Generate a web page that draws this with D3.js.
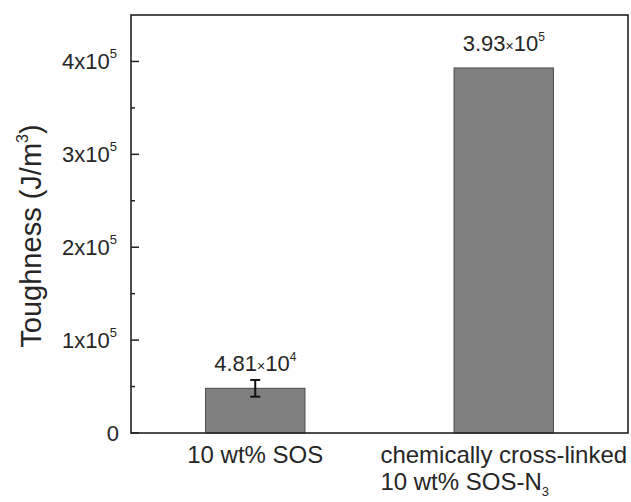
<!DOCTYPE html>
<html>
<head>
<meta charset="utf-8">
<script src="https://cdn.jsdelivr.net/npm/d3@7"></script>
<style>
  html, body { margin: 0; padding: 0; background: #fff; }
  svg text { font-family: "Liberation Sans", Arial, sans-serif; fill: #262626; }
</style>
</head>
<body>
<svg id="chart" width="631" height="502"></svg>
<script>
// Toughness of the two membranes
const categories = ["10 wt% SOS", "chemically cross-linked|10 wt% SOS-N|3"];
const values = [48100, 393000];
const errors = [9000, 0];
const yMajorTicks = [0, 100000, 200000, 300000, 400000];
const yMinorTicks = [50000, 150000, 250000, 350000];
const yTitle = "Toughness (J/m";

const W = 631, H = 502;
const margin = { left: 131, top: 15, right: 3, bottom: 69 };
const svg = d3.select("#chart");

const x = d3.scaleBand()
  .domain(d3.range(categories.length))
  .range([margin.left, W - margin.right])
  .paddingInner(0.6)
  .paddingOuter(0.3);

const y = d3.scaleLinear()
  .domain([0, 450000])
  .range([H - margin.bottom, margin.top]);

const plotL = margin.left, plotR = W - margin.right;
const plotT = margin.top, plotB = H - margin.bottom;

// bars
svg.append("g").selectAll("rect")
  .data(values)
  .join("rect")
  .attr("x", (d, i) => x(i))
  .attr("y", d => y(d))
  .attr("width", x.bandwidth())
  .attr("height", d => y(0) - y(d))
  .attr("fill", "#808080")
  .attr("stroke", "#4a4a4a")
  .attr("stroke-width", 1);

// error bars
const eb = svg.append("g").attr("stroke", "#111").attr("stroke-width", 2);
values.forEach((v, i) => {
  const e = errors[i];
  if (!e) return;
  const cx = x(i) + x.bandwidth() / 2;
  eb.append("line").attr("x1", cx).attr("x2", cx).attr("y1", y(v - e)).attr("y2", y(v + e));
  eb.append("line").attr("x1", cx - 5).attr("x2", cx + 5).attr("y1", y(v - e)).attr("y2", y(v - e));
  eb.append("line").attr("x1", cx - 5).attr("x2", cx + 5).attr("y1", y(v + e)).attr("y2", y(v + e));
});

// value labels in a×10^n form
values.forEach((v, i) => {
  const exp = Math.floor(Math.log10(v));
  const mant = (v / Math.pow(10, exp)).toFixed(2);
  const cx = x(i) + x.bandwidth() / 2;
  const t = svg.append("text")
    .attr("x", cx)
    .attr("y", y(v) - 17)
    .attr("text-anchor", "middle")
    .attr("font-size", 22);
  t.append("tspan").text(mant);
  t.append("tspan").attr("font-size", 14).text("\u00d7");
  t.append("tspan").text("10");
  t.append("tspan").attr("font-size", 12).attr("dy", -10).text(exp);
});

// y axis: major and minor ticks pointing inward
const axisG = svg.append("g").attr("stroke", "#222").attr("stroke-width", 1.5);
yMajorTicks.forEach(t => {
  axisG.append("line").attr("x1", plotL).attr("x2", plotL + 8).attr("y1", y(t)).attr("y2", y(t));
});
yMinorTicks.forEach(t => {
  axisG.append("line").attr("x1", plotL).attr("x2", plotL + 4).attr("y1", y(t)).attr("y2", y(t));
});

// y tick labels
yMajorTicks.forEach(t => {
  const g = svg.append("text")
    .attr("x", t === 0 ? plotL - 12 : plotL - 14)
    .attr("y", y(t) + 8)
    .attr("text-anchor", "end")
    .attr("font-size", 22);
  if (t === 0) {
    g.text("0");
  } else {
    const exp = Math.floor(Math.log10(t));
    const m = Math.round(t / Math.pow(10, exp));
    g.append("tspan").text(m + "x10");
    g.append("tspan").attr("font-size", 13).attr("dy", -11).text(exp);
  }
});

// frame
svg.append("rect")
  .attr("x", plotL).attr("y", plotT)
  .attr("width", plotR - plotL).attr("height", plotB - plotT)
  .attr("fill", "none").attr("stroke", "#222").attr("stroke-width", 1.6);

// category labels (second one wraps, with N subscript 3)
const cat0 = x(0) + x.bandwidth() / 2;
svg.append("text")
  .attr("x", cat0).attr("y", plotB + 30)
  .attr("text-anchor", "middle").attr("font-size", 24)
  .text(categories[0]);

const parts = categories[1].split("|");
const cat1 = x(1) + x.bandwidth() / 2;
const catG = svg.append("g");
const line1 = catG.append("text")
  .attr("x", cat1).attr("y", plotB + 30)
  .attr("text-anchor", "middle").attr("font-size", 24)
  .text(parts[0]);
const w1 = line1.node().getComputedTextLength();
const line2 = catG.append("text")
  .attr("x", cat1 - w1 / 2).attr("y", plotB + 57)
  .attr("font-size", 24);
line2.append("tspan").text(parts[1]);
line2.append("tspan").attr("font-size", 13).attr("dy", 6).text(parts[2]);

// y axis title
const yt = svg.append("text")
  .attr("transform", `translate(41, 236) rotate(-90)`)
  .attr("text-anchor", "middle")
  .attr("font-size", 29);
yt.append("tspan").text(yTitle);
yt.append("tspan").attr("font-size", 16).attr("dy", -13).text("3");
yt.append("tspan").attr("dy", 13).text(")");
</script>
</body>
</html>
